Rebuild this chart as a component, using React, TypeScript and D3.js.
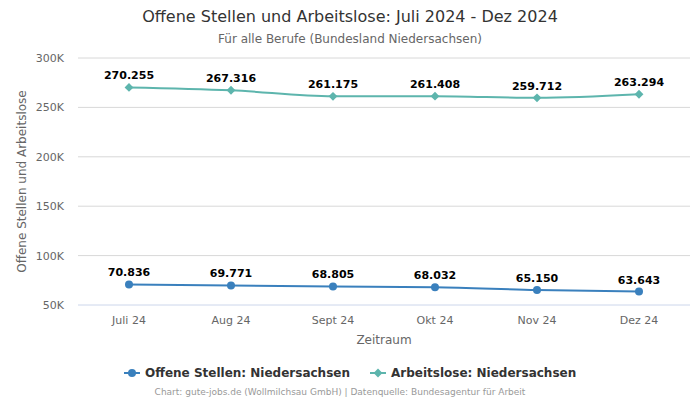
import React from "react";
import * as d3 from "d3";

const categories = ["Juli 24", "Aug 24", "Sept 24", "Okt 24", "Nov 24", "Dez 24"];
const offeneStellen = [70836, 69771, 68805, 68032, 65150, 63643];
const arbeitslose = [270255, 267316, 261175, 261408, 259712, 263294];
const yTicks = [50000, 100000, 150000, 200000, 250000, 300000];

const W = 700, H = 400;
const left = 78, right = 690, top = 58, bottom = 305;
const FONT = "DejaVu Sans, sans-serif";
const C1 = "#3a80bd";
const C2 = "#5db5ad";

const fmt = (v: number) => {
  const s = String(v);
  return s.slice(0, s.length - 3) + "." + s.slice(s.length - 3);
};

export default function App() {
  const x = d3.scaleBand<string>().domain(categories).range([left, right]);
  const cx = (c: string) => (x(c) as number) + x.bandwidth() / 2;
  const y = d3.scaleLinear().domain([50000, 300000]).range([bottom, top]);
  const line = d3
    .line<number>()
    .x((_, i) => cx(categories[i]))
    .y((d) => y(d))
    .curve(d3.curveMonotoneX);

  const series = [
    { name: "Offene Stellen: Niedersachsen", data: offeneStellen, color: C1, marker: "circle" },
    { name: "Arbeitslose: Niedersachsen", data: arbeitslose, color: C2, marker: "diamond" },
  ];

  return (
    <svg width={W} height={H} style={{ position: "absolute", left: 0, top: 0, fontFamily: FONT }}>
      <rect width={W} height={H} fill="#fff" />
      <text x={350} y={22} textAnchor="middle" fontSize={16} fill="#333">
        Offene Stellen und Arbeitslose: Juli 2024 - Dez 2024
      </text>
      <text x={350} y={43} textAnchor="middle" fontSize={12} fill="#666">
        Für alle Berufe (Bundesland Niedersachsen)
      </text>
      {yTicks.map((t) => (
        <g key={t}>
          <line
            x1={left}
            x2={right}
            y1={y(t)}
            y2={y(t)}
            stroke={t === 50000 ? "#ccd6eb" : "#d8d8d8"}
            strokeWidth={1}
          />
          <text x={64} y={y(t) + 4} textAnchor="end" fontSize={11} fill="#666">
            {t / 1000}K
          </text>
        </g>
      ))}
      <text
        transform={`translate(26,${(top + bottom) / 2}) rotate(-90)`}
        textAnchor="middle"
        fontSize={12}
        fill="#666"
      >
        Offene Stellen und Arbeitslose
      </text>
      {categories.map((c) => (
        <text key={c} x={cx(c)} y={324} textAnchor="middle" fontSize={11} fill="#666">
          {c}
        </text>
      ))}
      <text x={(left + right) / 2} y={344} textAnchor="middle" fontSize={12} fill="#666">
        Zeitraum
      </text>
      {series.map((s) => (
        <g key={s.name}>
          <path d={line(s.data) as string} fill="none" stroke={s.color} strokeWidth={2} />
          {s.data.map((v, i) =>
            s.marker === "circle" ? (
              <circle key={i} cx={cx(categories[i])} cy={y(v)} r={4} fill={s.color} />
            ) : (
              <path
                key={i}
                d={d3.symbol(d3.symbolDiamond2, 50)() as string}
                transform={`translate(${cx(categories[i])},${y(v)})`}
                fill={s.color}
              />
            )
          )}
          {s.data.map((v, i) => (
            <text
              key={"l" + i}
              x={cx(categories[i])}
              y={y(v) - 8}
              textAnchor="middle"
              fontSize={11}
              fontWeight="bold"
              fill="#000"
              stroke="#fff"
              strokeWidth={2}
              paintOrder="stroke"
            >
              {fmt(v)}
            </text>
          ))}
        </g>
      ))}
      {/* legend */}
      <g>
        <line x1={124} x2={140} y1={373} y2={373} stroke={C1} strokeWidth={2} />
        <circle cx={132} cy={373} r={4} fill={C1} />
        <text x={145} y={377} fontSize={12} fontWeight="bold" fill="#333">
          Offene Stellen: Niedersachsen
        </text>
        <line x1={370} x2={386} y1={373} y2={373} stroke={C2} strokeWidth={2} />
        <path d={d3.symbol(d3.symbolDiamond2, 50)() as string} transform="translate(378,373)" fill={C2} />
        <text x={391} y={377} fontSize={12} fontWeight="bold" fill="#333">
          Arbeitslose: Niedersachsen
        </text>
      </g>
      <text x={340} y={395} textAnchor="middle" fontSize={9} fill="#999">
        Chart: gute-jobs.de (Wollmilchsau GmbH) | Datenquelle: Bundesagentur für Arbeit
      </text>
    </svg>
  );
}
